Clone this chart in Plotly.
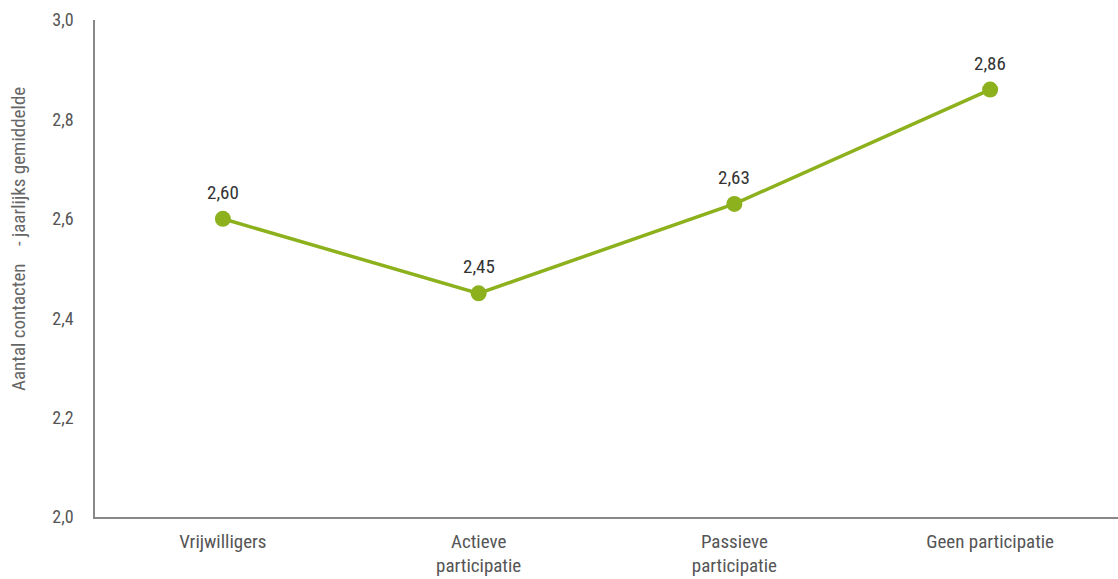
import plotly.graph_objects as go

categories = ["Vrijwilligers", "Actieve<br>participatie", "Passieve<br>participatie", "Geen participatie"]
values = [2.60, 2.45, 2.63, 2.86]
y_ticks = [2.0, 2.2, 2.4, 2.6, 2.8, 3.0]
y_tick_labels = ["2,0", "2,2", "2,4", "2,6", "2,8", "3,0"]
value_labels = [f"{v:.2f}".replace(".", ",") for v in values]
y_title = "Aantal contacten\u00a0\u00a0\u00a0 - jaarlijks gemiddelde"

FONT = "Liberation Sans Narrow, Roboto Condensed, Roboto, sans-serif"
GREEN = "#8cb11c"

fig = go.Figure(
    go.Scatter(
        x=categories,
        y=values,
        mode="lines+markers",
        line=dict(color=GREEN, width=3.5),
        marker=dict(color=GREEN, size=16),
        cliponaxis=False,
        hoverinfo="skip",
    )
)

# value labels above each point
for cat, val, lab in zip(categories, values, value_labels):
    fig.add_annotation(
        x=cat, y=val, text=lab, showarrow=False,
        yanchor="bottom", yshift=13,
        font=dict(family=FONT, size=19, color="#333333"),
    )

# rotated y-axis title
fig.add_annotation(
    xref="paper", yref="paper", x=-0.075, y=0.56,
    text=y_title, textangle=-90, showarrow=False,
    xanchor="center", yanchor="middle",
    font=dict(family=FONT, size=19, color="#666666"),
)

fig.update_layout(
    width=1118,
    height=579,
    margin=dict(l=95, r=0, t=20, b=62),
    paper_bgcolor="white",
    plot_bgcolor="white",
    showlegend=False,
    font=dict(family=FONT, size=18, color="#555555"),
)

fig.update_xaxes(
    range=[-0.5, 3.5],
    showline=True,
    linecolor="#888888",
    linewidth=1.5,
    showgrid=False,
    ticks="",
    ticklabelstandoff=6,
    tickfont=dict(family=FONT, size=19, color="#555555"),
)

fig.update_yaxes(
    range=[2.0, 3.0],
    tickvals=y_ticks,
    ticktext=y_tick_labels,
    showline=True,
    linecolor="#888888",
    linewidth=1.5,
    showgrid=False,
    zeroline=False,
    ticks="",
    ticklabelstandoff=16,
    tickfont=dict(family=FONT, size=18, color="#555555"),
)

fig.write_html("out.html")
